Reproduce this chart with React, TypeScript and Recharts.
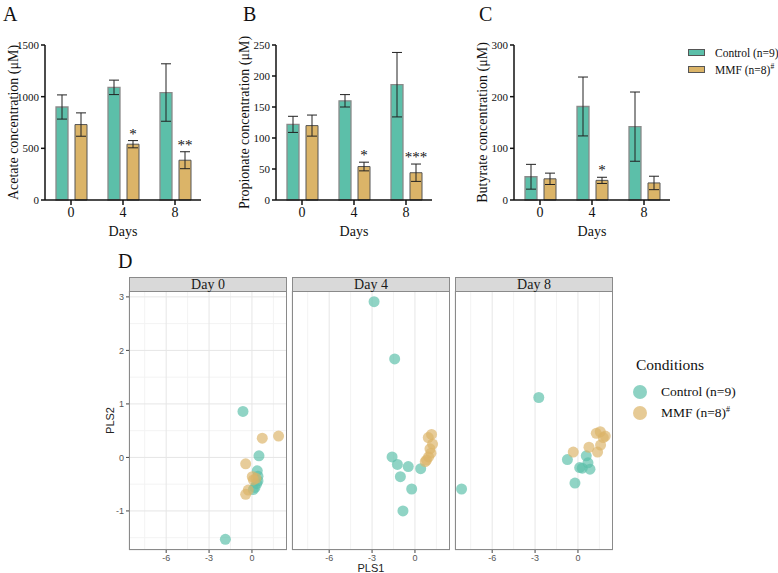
import React from "react";
import {
  BarChart,
  Bar,
  ErrorBar,
  LabelList,
  ScatterChart,
  Scatter,
  XAxis,
  YAxis,
  CartesianGrid,
} from "recharts";

const SERIF = '"Liberation Serif", "Times New Roman", serif';
const SANS = '"Liberation Sans", Arial, sans-serif';
const GREEN = "#5cbfa9";
const TAN = "#dbb468";

// bar panels
const days = ["0", "4", "8"];

const acetateControl = [900, 1090, 1040];
const acetateControlSem = [117, 70, 278];
const acetateMmf = [730, 540, 385];
const acetateMmfSem = [113, 35, 82];
const acetateStars = ["", "*", "**"];
const acetateTicks = [0, 500, 1000, 1500];

const propionateControl = [122, 160, 186];
const propionateControlSem = [13, 10, 52];
const propionateMmf = [120, 54, 44];
const propionateMmfSem = [17, 7, 14];
const propionateStars = ["", "*", "***"];
const propionateTicks = [0, 50, 100, 150, 200, 250];

const butyrateControl = [45, 181, 142];
const butyrateControlSem = [24, 57, 67];
const butyrateMmf = [41, 38, 33];
const butyrateMmfSem = [11, 6, 13];
const butyrateStars = ["", "*", ""];
const butyrateTicks = [0, 100, 200, 300];

// PLS score plot, [PLS1, PLS2]
const day0Control = [
  [-0.63, 0.86], [0.49, 0.03], [0.37, -0.25], [0.42, -0.35], [0.42, -0.44],
  [0.33, -0.49], [0.21, -0.56], [0.09, -0.6], [-1.86, -1.53],
];
const day0Mmf = [
  [1.86, 0.4], [0.72, 0.36], [-0.44, -0.12], [0.02, -0.36],
  [0.28, -0.39], [0.1, -0.42], [-0.26, -0.61], [-0.44, -0.69],
];
const day4Control = [
  [-2.86, 2.91], [-1.42, 1.84], [-1.6, 0.01], [-1.23, -0.13], [-0.47, -0.17],
  [-1.02, -0.36], [0.4, -0.21], [-0.23, -0.59], [-0.84, -1.0],
];
const day4Mmf = [
  [1.16, 0.43], [0.93, 0.37], [1.23, 0.25], [1.05, 0.16],
  [1.12, 0.08], [0.95, 0.01], [0.81, -0.05], [0.72, -0.08],
];
const day8Control = [
  [-2.74, 1.12], [-8.14, -0.59], [-0.74, -0.04], [0.58, 0.03], [0.7, -0.1],
  [0.12, -0.19], [0.3, -0.2], [0.84, -0.22], [-0.21, -0.48],
];
const day8Mmf = [
  [1.28, 0.45], [1.56, 0.48], [1.91, 0.4], [1.77, 0.37],
  [1.58, 0.23], [0.77, 0.19], [1.37, 0.1], [-0.33, 0.1],
];
const plsXTicks = [-6, -3, 0];
const plsYTicks = [-1, 0, 1, 2, 3];
const plsXMinor = [-7.5, -4.5, -1.5, 1.5];
const plsYMinor = [-1.5, -0.5, 0.5, 1.5, 2.5];

const verticalTitle =
  (text: string, dx: number, size: number, font: string, color: string) =>
  (props: any) => {
    const vb = props.viewBox || {};
    const cx = (vb.x ?? 0) + dx;
    const cy = (vb.y ?? 0) + (vb.height ?? 0) / 2;
    return (
      <text
        x={cx}
        y={cy}
        transform={`rotate(-90 ${cx} ${cy})`}
        textAnchor="middle"
        dominantBaseline="central"
        fontSize={size}
        fontFamily={font}
        fill={color}
      >
        {text}
      </text>
    );
  };

const starLabel =
  (values: number[], sem: number[], stars: string[]) => (props: any) => {
    const s = stars[props.index];
    if (!s) return null;
    const vb = props.viewBox && props.viewBox.width != null ? props.viewBox : props;
    const perUnit = vb.height / values[props.index];
    const top = vb.y - sem[props.index] * perUnit;
    return (
      <text
        x={vb.x + vb.width / 2}
        y={top - 2}
        textAnchor="middle"
        fontSize={15}
        fontFamily={SERIF}
        fill="#111"
        stroke="none"
        style={{ fill: "#111" }}
      >
        {s}
      </text>
    );
  };

function BarPanel(props: {
  left: number;
  title: string;
  control: number[];
  controlSem: number[];
  mmf: number[];
  mmfSem: number[];
  stars: string[];
  ticks: number[];
}) {
  const { left, title, control, controlSem, mmf, mmfSem, stars, ticks } = props;
  const data = days.map((d, i) => ({
    day: d,
    control: control[i],
    controlSem: controlSem[i],
    mmf: mmf[i],
    mmfSem: mmfSem[i],
    star: stars[i],
  }));
  return (
    <div style={{ position: "absolute", left, top: 0 }}>
      <BarChart
        width={210}
        height={240}
        data={data}
        margin={{ top: 45, right: 9, bottom: 0, left: 0 }}
        barGap={7}
      >
        <XAxis
          dataKey="day"
          height={40}
          tickSize={5}
          tick={{ fontSize: 14, fill: "#111", fontFamily: SERIF }}
          axisLine={{ stroke: "#111", strokeWidth: 1.5 }}
          tickLine={{ stroke: "#111", strokeWidth: 1.5 }}
          label={{
            value: "Days",
            position: "insideBottom",
            offset: 4,
            fontSize: 14,
            fontFamily: SERIF,
            fill: "#111",
          }}
        />
        <YAxis
          width={45}
          domain={[0, ticks[ticks.length - 1]]}
          ticks={ticks}
          tickSize={4}
          tick={{ fontSize: 11, fill: "#111", fontFamily: SERIF }}
          axisLine={{ stroke: "#111", strokeWidth: 1.5 }}
          tickLine={{ stroke: "#111", strokeWidth: 1.5 }}
          label={{ content: verticalTitle(title, 13, 14, SERIF, "#111") }}
        />
        <Bar
          dataKey="control"
          fill={GREEN}
          stroke="#8a8a8a"
          strokeWidth={1.3}
          barSize={12}
          isAnimationActive={false}
        >
          <ErrorBar dataKey="controlSem" width={5} stroke="#222" strokeWidth={1} />
        </Bar>
        <Bar
          dataKey="mmf"
          fill={TAN}
          stroke="#555"
          strokeWidth={1}
          barSize={12}
          isAnimationActive={false}
        >
          <ErrorBar dataKey="mmfSem" width={5} stroke="#222" strokeWidth={1} />
          <LabelList dataKey="star" content={starLabel(mmf, mmfSem, stars)} />
        </Bar>
      </BarChart>
    </div>
  );
}

const dot = (color: string) => (p: any) =>
  <circle cx={p.cx} cy={p.cy} r={5.5} fill={color} fillOpacity={0.68} />;

function Facet(props: {
  left: number;
  label: string;
  control: number[][];
  mmf: number[][];
  showY: boolean;
  showXTitle: boolean;
}) {
  const { left, label, control, mmf, showY, showXTitle } = props;
  const ctrlData = control.map(([x, y]) => ({ x, y }));
  const mmfData = mmf.map(([x, y]) => ({ x, y }));
  const plotW = 158;
  const plotH = 259;
  const top = 291;
  return (
    <>
      <div style={{ position: "absolute", left: left - 30, top }}>
        <ScatterChart
          width={plotW + 30}
          height={plotH + 28}
          margin={{ top: 0, right: 0, bottom: 0, left: 0 }}
        >
          <CartesianGrid
            verticalValues={plsXMinor}
            horizontalValues={plsYMinor}
            stroke="#f3f3f3"
          />
          <CartesianGrid stroke="#e6e6e6" />
          <XAxis
            type="number"
            dataKey="x"
            domain={[-8.6, 2.45]}
            ticks={plsXTicks}
            allowDataOverflow
            height={28}
            tickSize={3}
            axisLine={false}
            tickLine={{ stroke: "#444" }}
            tick={{ fontSize: 9, fill: "#555", fontFamily: SANS }}
            label={
              showXTitle
                ? {
                    value: "PLS1",
                    position: "insideBottom",
                    offset: 6,
                    fontSize: 11,
                    fontFamily: SANS,
                    fill: "#222",
                  }
                : undefined
            }
          />
          <YAxis
            type="number"
            dataKey="y"
            domain={[-1.73, 3.11]}
            ticks={plsYTicks}
            allowDataOverflow
            width={30}
            tickSize={3}
            axisLine={false}
            tickLine={showY ? { stroke: "#444" } : false}
            tick={showY ? { fontSize: 9, fill: "#555", fontFamily: SANS } : false}
            label={
              showY
                ? { content: verticalTitle("PLS2", 11, 11, SANS, "#222") }
                : undefined
            }
          />
          <Scatter data={ctrlData} shape={dot(GREEN)} isAnimationActive={false} />
          <Scatter data={mmfData} shape={dot(TAN)} isAnimationActive={false} />
        </ScatterChart>
      </div>
      <div
        style={{
          position: "absolute",
          left,
          top,
          width: plotW,
          height: plotH,
          boxSizing: "border-box",
          border: "1px solid #8a8a8a",
          pointerEvents: "none",
        }}
      />
      <div
        style={{
          position: "absolute",
          left,
          top: 277,
          width: plotW,
          height: 15,
          boxSizing: "border-box",
          border: "1px solid #8a8a8a",
          background: "#d9d9d9",
          fontFamily: SERIF,
          fontSize: 14,
          lineHeight: "13px",
          textAlign: "center",
          color: "#1a1a1a",
        }}
      >
        {label}
      </div>
    </>
  );
}

const panelLetter = (text: string, left: number, top: number) => (
  <div
    style={{
      position: "absolute",
      left,
      top,
      fontFamily: SERIF,
      fontSize: 20,
      lineHeight: "20px",
      color: "#111",
    }}
  >
    {text}
  </div>
);

export default function App() {
  return (
    <div
      style={{
        position: "absolute",
        left: 0,
        top: 0,
        width: 778,
        height: 573,
        overflow: "hidden",
        background: "#fff",
      }}
    >
      {panelLetter("A", 3, 4)}
      {panelLetter("B", 243, 4)}
      {panelLetter("C", 479, 4)}
      {panelLetter("D", 118, 251)}

      <BarPanel
        left={0}
        title="Acetate concentration (μM)"
        control={acetateControl}
        controlSem={acetateControlSem}
        mmf={acetateMmf}
        mmfSem={acetateMmfSem}
        stars={acetateStars}
        ticks={acetateTicks}
      />
      <BarPanel
        left={231}
        title="Propionate concentration (μM)"
        control={propionateControl}
        controlSem={propionateControlSem}
        mmf={propionateMmf}
        mmfSem={propionateMmfSem}
        stars={propionateStars}
        ticks={propionateTicks}
      />
      <BarPanel
        left={469}
        title="Butyrate concentration (μM)"
        control={butyrateControl}
        controlSem={butyrateControlSem}
        mmf={butyrateMmf}
        mmfSem={butyrateMmfSem}
        stars={butyrateStars}
        ticks={butyrateTicks}
      />

      {/* bar legend */}
      <div
        style={{
          position: "absolute",
          left: 688,
          top: 44,
          fontFamily: SERIF,
          fontSize: 11.5,
          color: "#111",
          whiteSpace: "nowrap",
        }}
      >
        <div style={{ display: "flex", alignItems: "center", height: 17 }}>
          <div style={{ width: 17, height: 7, background: GREEN, border: "1px solid #555", boxSizing: "border-box" }} />
          <span style={{ marginLeft: 10 }}>Control (n=9)</span>
        </div>
        <div style={{ display: "flex", alignItems: "center", height: 17 }}>
          <div style={{ width: 17, height: 7, background: TAN, border: "1px solid #555", boxSizing: "border-box" }} />
          <span style={{ marginLeft: 10 }}>
            MMF (n=8)<sup style={{ fontSize: 7.5, lineHeight: 0 }}>#</sup>
          </span>
        </div>
      </div>

      <Facet left={129} label="Day 0" control={day0Control} mmf={day0Mmf} showY showXTitle={false} />
      <Facet left={292} label="Day 4" control={day4Control} mmf={day4Mmf} showY={false} showXTitle />
      <Facet left={455} label="Day 8" control={day8Control} mmf={day8Mmf} showY={false} showXTitle={false} />

      {/* PLS legend */}
      <div
        style={{
          position: "absolute",
          left: 636,
          top: 355,
          fontFamily: SERIF,
          color: "#111",
          whiteSpace: "nowrap",
        }}
      >
        <div style={{ fontSize: 15.5, lineHeight: "20px" }}>Conditions</div>
        <div style={{ display: "flex", alignItems: "center", height: 21, marginTop: 6 }}>
          <div style={{ width: 14, height: 14, borderRadius: 7, background: GREEN, opacity: 0.7, marginLeft: -3 }} />
          <span style={{ marginLeft: 14, fontSize: 13.5 }}>Control (n=9)</span>
        </div>
        <div style={{ display: "flex", alignItems: "center", height: 21 }}>
          <div style={{ width: 14, height: 14, borderRadius: 7, background: TAN, opacity: 0.7, marginLeft: -3 }} />
          <span style={{ marginLeft: 14, fontSize: 13.5 }}>
            MMF (n=8)<sup style={{ fontSize: 8, lineHeight: 0 }}>#</sup>
          </span>
        </div>
      </div>
    </div>
  );
}
